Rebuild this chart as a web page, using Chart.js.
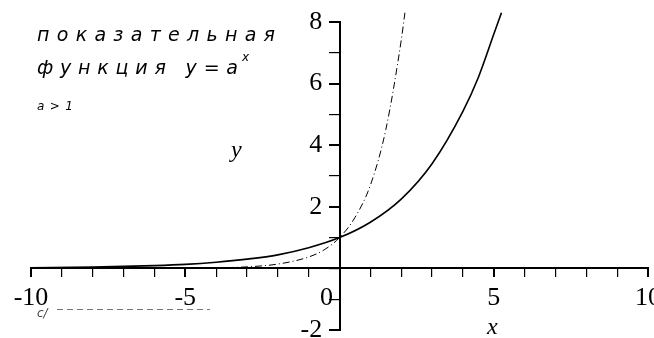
<!DOCTYPE html>
<html><head><meta charset="utf-8">
<script src="https://cdn.jsdelivr.net/npm/chart.js@4"></script>
<style>html,body{margin:0;padding:0;background:#fff}#wrap{width:654px;height:338px}</style>
</head><body><div id="wrap"><canvas id="c" width="654" height="338"></canvas></div>
<script>
// Solid curve (a = 1.5)
const xSolid = [-10, -8, -6, -5, -4, -3, -2, -1, 0, 1, 2, 3, 4, 4.5, 5, 5.25];
const ySolid = [0.02, 0.04, 0.09, 0.13, 0.2, 0.3, 0.44, 0.67, 1, 1.5, 2.25, 3.4, 5.1, 6.2, 7.6, 8.3];
// Dash-dot curve (a = e)
const xDash = [-10, -6, -4, -3, -2, -1, -0.5, 0, 0.5, 1, 1.5, 2, 2.12];
const yDash = [0.0, 0.003, 0.02, 0.05, 0.14, 0.37, 0.6, 1, 1.65, 2.7, 4.5, 7.4, 8.3];
const xTickLabels = [-10, -5, 0, 5, 10];
const yTickLabels = [-2, 2, 4, 6, 8];
const titleLines = ['показательная', 'функция y=a'];
const titleSup = 'x';
const subTitle = 'a>1';
const watermark = 'c/';
const xTitle = 'x';
const yTitle = 'y';

const toPts = (xs, ys) => xs.map((x, i) => ({x, y: ys[i]}));
const zeroPad = s => { s.paddingLeft = 0; s.paddingRight = 0; s.paddingTop = 0; s.paddingBottom = 0; };

function fitText(ctx, text, x, y, targetW) {
  ctx.letterSpacing = '0px';
  const w0 = ctx.measureText(text).width;
  const n = [...text].length;
  const sp = (targetW - w0) / (n - 1);
  ctx.letterSpacing = sp + 'px';
  ctx.fillText(text, x, y);
  ctx.letterSpacing = '0px';
}

const textPlugin = {
  id: 'texts',
  afterDraw(chart) {
    const ctx = chart.ctx;
    ctx.save();
    ctx.fillStyle = '#000';
    ctx.textBaseline = 'alphabetic';
    ctx.textAlign = 'left';
    ctx.font = 'italic 19px "DejaVu Sans"';
    fitText(ctx, titleLines[0], 37, 41, 238);
    fitText(ctx, titleLines[1], 37, 74, 201);
    ctx.font = 'italic 12px "DejaVu Sans"';
    ctx.fillText(titleSup, 242, 61);
    ctx.font = 'italic 12px "DejaVu Sans"';
    fitText(ctx, subTitle, 37, 110, 36);
    ctx.fillStyle = '#444';
    ctx.font = 'italic 12px "DejaVu Sans"';
    ctx.fillText(watermark, 37, 317);
    ctx.strokeStyle = '#777';
    ctx.lineWidth = 1;
    ctx.setLineDash([6, 4]);
    ctx.beginPath(); ctx.moveTo(57, 309.5); ctx.lineTo(210, 309.5); ctx.stroke();
    ctx.setLineDash([]);
    ctx.fillStyle = '#000';
    ctx.font = 'italic 24px "Liberation Serif"';
    ctx.fillText(yTitle, 231, 157);
    ctx.fillText(xTitle, 487, 334);
    ctx.restore();
  }
};

new Chart(document.getElementById('c'), {
  type: 'scatter',
  data: {
    datasets: [
      {data: toPts(xSolid, ySolid), showLine: true, borderColor: '#000', borderWidth: 1.6,
       pointRadius: 0, cubicInterpolationMode: 'monotone', clip: false},
      {data: toPts(xDash, yDash), showLine: true, borderColor: '#000', borderWidth: 1,
       borderDash: [7, 3, 1, 3], pointRadius: 0, cubicInterpolationMode: 'monotone', clip: false}
    ]
  },
  options: {
    responsive: false, animation: false, events: [],
    layout: {padding: {left: 31, right: 6, top: 22, bottom: 8}},
    plugins: {legend: {display: false}, tooltip: {enabled: false}},
    scales: {
      x: {
        type: 'linear', min: -10, max: 10, position: {y: 0},
        afterFit: s => { s.height = 0; zeroPad(s); },
        border: {display: true, color: '#000', width: 2},
        grid: {drawOnChartArea: false, color: '#000', tickLength: 8,
               lineWidth: c => (c.tick && xTickLabels.includes(c.tick.value)) ? 2 : 1.2},
        ticks: {stepSize: 1, autoSkip: false, maxRotation: 0, color: '#000', padding: 6,
                font: {family: 'Liberation Serif', size: 26},
                callback: v => xTickLabels.includes(v) ? (v === 0 ? '0\u2003' : String(v)) : ''}
      },
      y: {
        type: 'linear', min: -2, max: 8, position: {x: 0},
        afterFit: s => { s.width = 0; zeroPad(s); },
        border: {display: true, color: '#000', width: 2},
        grid: {drawOnChartArea: false, color: '#000', tickLength: 10,
               lineWidth: c => (c.tick && yTickLabels.includes(c.tick.value)) ? 2 : 1.2},
        ticks: {stepSize: 1, autoSkip: false, color: '#000', padding: 3,
                font: {family: 'Liberation Serif', size: 26},
                callback: v => yTickLabels.includes(v) ? String(v) + '\u2002\u2006' : ''}
      }
    }
  },
  plugins: [textPlugin]
});
</script>
</body></html>
